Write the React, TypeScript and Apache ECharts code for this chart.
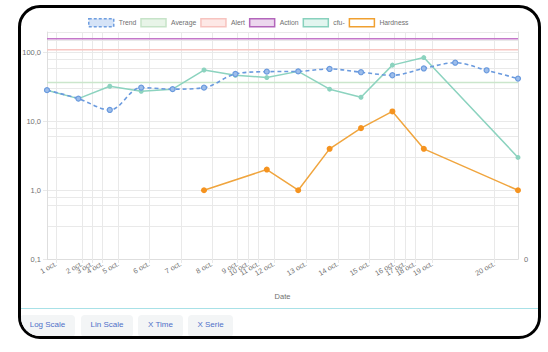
import React, { useEffect, useRef } from "react";
import * as echarts from "echarts";

// Samples (evenly spaced on the chart)
const sampleIds = ["S1", "S2", "S3", "S4", "S5", "S6", "S7", "S8", "S9", "S10", "S11", "S12", "S13", "S14", "S15", "S16"];
const trendValues = [28.5, 21.5, 14.7, 31, 29.5, 31, 49, 53, 53.5, 58, 52, 47, 59, 71.5, 55.5, 42];
const cfuValues = [28.5, 21.5, 32.5, 27.5, 29.5, 56, 47, 43.5, 53.5, 29.5, 22.5, 66, 85, null, null, 3.0];
const hardnessValues = [null, null, null, null, null, 1.0, null, 2.0, 1.0, 4.0, 8.0, 14.0, 4.0, null, null, 1.0];
const averageValue = 37;
const alertValue = 110;
const actionValue = 160;

// Date ticks (in sample-index units of the x scale)
const tickLabels = ["1 oct.", "2 oct.", "3 oct.", "4 oct.", "5 oct.", "6 oct.", "7 oct.", "8 oct.", "9 oct.", "10 oct.", "11 oct.", "12 oct.", "13 oct.", "14 oct.", "15 oct.", "16 oct.", "17 oct.", "18 oct.", "19 oct.", "20 oct."];
const tickValues = [0.29, 1.11, 1.44, 1.77, 2.27, 3.25, 4.26, 5.25, 6.07, 6.41, 6.74, 7.23, 8.25, 9.26, 10.25, 11.06, 11.4, 11.73, 12.27, 14.25];

// Minor log grid lines
const minorGridValues = [0.3, 0.6, 0.8, 3, 6, 8, 30, 60, 80, 150];

const buttons = ["Log Scale", "Lin Scale", "X Time", "X Serie"];

const FONT = "'Liberation Sans', Arial, sans-serif";
const GRID = "#e9e9e9";
const TXT = "#707070";

function labelFor(v: number) {
  let best = 0;
  let bd = Infinity;
  tickValues.forEach((t, i) => {
    const d = Math.abs(t - v);
    if (d < bd) { bd = d; best = i; }
  });
  return tickLabels[best];
}

export default function App() {
  const ref = useRef<HTMLDivElement>(null);
  useEffect(() => {
    if (!ref.current) return;
    const chart = echarts.init(ref.current, null, { renderer: "svg" });
    const first = sampleIds[0];
    const last = sampleIds[sampleIds.length - 1];
    const refLine = (name: string, value: number, color: string) => ({
      name,
      type: "line",
      xAxisIndex: 0,
      yAxisIndex: 0,
      data: [[first, value], [last, value]],
      showSymbol: false,
      symbol: "none",
      lineStyle: { color, width: 1.5 },
      itemStyle: { color },
      z: 2,
    });
    chart.setOption({
      animation: false,
      textStyle: { fontFamily: FONT },
      grid: { left: 47, right: 30, top: 32, bottom: 305 - 261 },
      legend: {
        left: 88,
        top: 18,
        padding: 0,
        icon: "rect",
        itemWidth: 25,
        itemHeight: 8,
        itemGap: 4,
        selectedMode: false,
        textStyle: { fontSize: 6.8, color: TXT, fontFamily: FONT },
        data: [
          { name: "Trend", itemStyle: { color: "#d5e3f7", borderColor: "#6f9ee0", borderWidth: 1.5, borderType: [3, 2] } },
          { name: "Average", itemStyle: { color: "#e8f4e8", borderColor: "#c6e3c8", borderWidth: 1.5 } },
          { name: "Alert", itemStyle: { color: "#fde8e6", borderColor: "#f7c3bf", borderWidth: 1.5 } },
          { name: "Action", itemStyle: { color: "#ecd7ee", borderColor: "#b366bb", borderWidth: 1.5 } },
          { name: "cfu-", itemStyle: { color: "#e2f5ef", borderColor: "#88d1bd", borderWidth: 1.5 } },
          { name: "Hardness", itemStyle: { color: "#ffffff", borderColor: "#f0a030", borderWidth: 1.5 } },
        ],
      },
      xAxis: [
        {
          type: "category",
          data: sampleIds,
          boundaryGap: false,
          show: false,
          position: "top",
        },
        {
          type: "value",
          min: 0,
          max: 15,
          position: "bottom",
          axisLine: { show: true, lineStyle: { color: "#dedede" } },
          axisTick: { show: true, length: 4, customValues: tickValues, lineStyle: { color: GRID } },
          axisLabel: {
            customValues: tickValues,
            rotate: 30,
            fontSize: 7.2,
            color: TXT,
            margin: 4,
            formatter: (v: number) => labelFor(v),
          },
          splitLine: { show: true, lineStyle: { color: GRID } },
          name: "Date",
          nameLocation: "middle",
          nameGap: 33,
          nameTextStyle: { color: TXT, fontSize: 7.5 },
        },
      ],
      yAxis: [
        {
          type: "log",
          logBase: 10,
          min: 0.1,
          max: 200,
          axisLine: { show: true, lineStyle: { color: "#dedede" } },
          axisTick: { show: true, length: 4, lineStyle: { color: GRID } },
          axisLabel: {
            color: TXT,
            fontSize: 7.5,
            margin: 6,
            showMaxLabel: false,
            formatter: (v: number) => v.toFixed(1).replace(".", ","),
          },
          splitLine: { show: true, lineStyle: { color: GRID } },
        },
        {
          type: "value",
          position: "right",
          min: 0,
          max: 1,
          interval: 1,
          axisLine: { show: true, lineStyle: { color: "#dedede" } },
          axisTick: { show: false },
          splitLine: { show: false },
          axisLabel: { color: TXT, fontSize: 7.5, margin: 6, formatter: (v: number) => (v === 0 ? "0" : "") },
        },
      ],
      series: [
        {
          name: "__grid",
          type: "line",
          xAxisIndex: 0,
          yAxisIndex: 0,
          data: [],
          z: 0,
          markLine: {
            silent: true,
            symbol: ["none", "none"],
            z: 0,
            label: { show: false },
            lineStyle: { color: GRID, width: 1, type: "solid" },
            data: minorGridValues.map((v) => ({ yAxis: v })),
          },
        },
        refLine("Action", actionValue, "#c477c9"),
        refLine("Alert", alertValue, "#f8c6c2"),
        refLine("Average", averageValue, "#cbe6cc"),
        {
          name: "Hardness",
          type: "line",
          xAxisIndex: 0,
          yAxisIndex: 0,
          data: hardnessValues,
          connectNulls: true,
          symbol: "circle",
          symbolSize: 6,
          lineStyle: { color: "#f0a53e", width: 1.5 },
          itemStyle: { color: "#f5931f" },
          z: 3,
        },
        {
          name: "cfu-",
          type: "line",
          xAxisIndex: 0,
          yAxisIndex: 0,
          data: cfuValues,
          connectNulls: true,
          symbol: "circle",
          symbolSize: 5,
          lineStyle: { color: "#8cd3bf", width: 1.5 },
          itemStyle: { color: "#8cd3bf" },
          z: 4,
        },
        {
          name: "Trend",
          type: "line",
          xAxisIndex: 0,
          yAxisIndex: 0,
          data: trendValues,
          smooth: 0.35,
          symbol: "circle",
          symbolSize: 5,
          lineStyle: { color: "#6a9ade", width: 1.6, type: [4, 3] },
          itemStyle: { color: "#9dbdea", borderColor: "#6a9ade", borderWidth: 1.2 },
          z: 5,
        },
      ],
    });
    return () => chart.dispose();
  }, []);

  const btnLefts = [20, 81, 138, 188];
  const btnWidths = [55, 52, 45, 45];

  return (
    <>
      <div
        style={{
          position: "absolute",
          left: 18,
          top: 5,
          width: 523,
          height: 334,
          boxSizing: "border-box",
          border: "3px solid #000",
          borderRadius: 22,
          overflow: "hidden",
          background: "#fff",
        }}
      >
        <div style={{ position: "absolute", left: 0, right: 0, top: 300, height: 1, background: "#a8e1e7" }} />
        {buttons.map((b, i) => (
          <div
            key={b}
            style={{
              position: "absolute",
              left: btnLefts[i] - 21,
              top: 307,
              width: btnWidths[i],
              height: 22,
              background: "#f3f5f6",
              borderRadius: 4,
              color: "#4f70c9",
              fontFamily: FONT,
              fontSize: 8,
              lineHeight: "20px",
              textAlign: "center",
            }}
          >
            {b}
          </div>
        ))}
      </div>
      <div ref={ref} style={{ position: "absolute", left: 0, top: 0, width: 548, height: 305 }} />
    </>
  );
}
